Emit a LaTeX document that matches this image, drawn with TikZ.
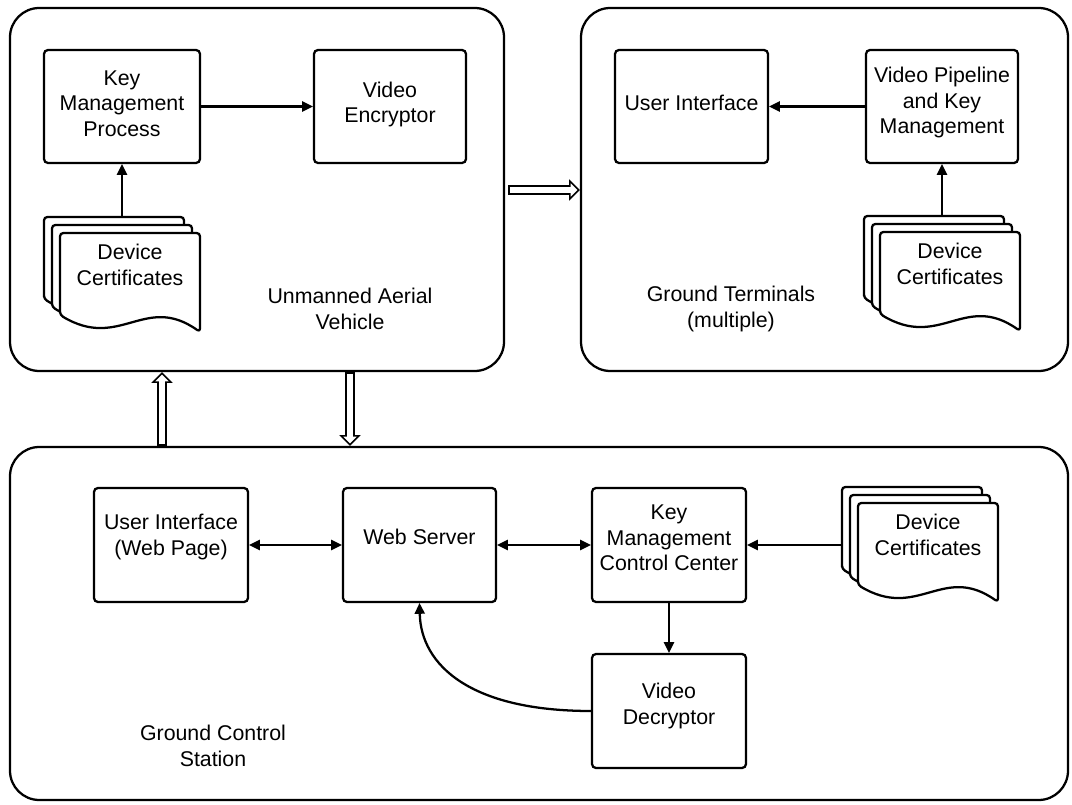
\documentclass[tikz,border=0pt]{standalone}
\usepackage{fontspec}
\setmainfont{Liberation Sans}
\usetikzlibrary{arrows.meta,fit,calc}

% one sheet of a document stack: straight top and sides, wavy bottom
\newcommand{\sheetpath}{(0,82) -- (0,0) -- (140,0) -- (140,99) .. controls (85,60) and (60,118) .. (0,82) -- cycle}
% a stack of three sheets; #1 name, (#2,#3) top-left corner of the back sheet
\newcommand{\docstack}[3]{%
  \foreach \d in {0,8,16}{%
    \begin{scope}[shift={(#2+\d,#3+\d)}]
      \filldraw[sheet] \sheetpath;
    \end{scope}}
  \node[fit={(#2,#3) (#2+156,#3+115)}, inner sep=0pt] (#1) {};
  \node[label] (#1-text) at (#2+86,#3+48) {Device\\Certificates};
}

\begin{document}
\begin{tikzpicture}[x=0.75pt,y=-0.75pt,
  every node/.style={font=\fontsize{16pt}{19pt}\selectfont},
  label/.style={align=center, inner sep=0pt},
  container/.style={draw, line width=1.7pt, rounded corners=22pt, inner sep=0pt},
  procbox/.style={draw, line width=1.7pt, rounded corners=3pt, inner sep=0pt},
  sheet/.style={draw, fill=white, line width=1.7pt, rounded corners=2.5pt, line join=round},
  link/.style={line width=1.7pt, -{Triangle[length=8pt,width=8pt,line width=0pt]}},
  biglink/.style={line width=1.7pt, {Triangle[length=8pt,width=8pt,line width=0pt]}-{Triangle[length=8pt,width=8pt,line width=0pt]}},
  hollowout/.style={line width=7.8pt, -{Triangle[length=8pt,width=16pt,line width=0pt]}},
  hollowin/.style={draw=white, line width=5pt, -{Triangle[length=5pt,width=10pt,line width=0pt]}, shorten >=1.9pt, shorten <=1.3pt}
]
\useasboundingbox (0,0) rectangle (1072,805);

% containers
\node[container, fit={(10,8) (504,371)}] (uav) {};
\node[container, fit={(581,8) (1068,371)}] (gt) {};
\node[container, fit={(10,447) (1068,800)}] (gcs) {};

\node[label] (uavlbl) at (350,309) {Unmanned Aerial\\Vehicle};
\node[label] (gtlbl) at (731,309) {Ground Terminals\\(multiple)};
\node[label] (gcslbl) at (213,746) {Ground Control\\Station};

% unmanned aerial vehicle
\node[procbox, fit={(44,50) (200,163)}] (kmp) {};
\node[label] (kmp-t) at ($(kmp.center)+(0,-3)$) {Key\\Management\\Process};
\node[procbox, fit={(314,50) (466,163)}] (ve) {};
\node[label] (ve-t) at ($(ve.center)+(0,-2)$) {Video\\Encryptor};
\docstack{docsA}{44}{217}

% ground terminals
\node[procbox, fit={(615,50) (768,163)}] (gtui) {};
\node[label] (gtui-t) at ($(gtui.center)+(0,-4)$) {User Interface};
\node[procbox, fit={(866,50) (1018,163)}] (vp) {};
\node[label] (vp-t) at ($(vp.center)+(0,-4)$) {Video Pipeline\\and Key\\Management};
\docstack{docsB}{864}{216}

% ground control station
\node[procbox, fit={(94,488) (248,602)}] (ui) {};
\node[label] (ui-t) at ($(ui.center)+(0,-8)$) {User Interface\\(Web Page)};
\node[procbox, fit={(343,488) (496,602)}] (ws) {};
\node[label] (ws-t) at ($(ws.center)+(0,-8)$) {Web Server};
\node[procbox, fit={(592,488) (746,602)}] (kmcc) {};
\node[label] (kmcc-t) at ($(kmcc.center)+(0,-7)$) {Key\\Management\\Control Center};
\node[procbox, fit={(592,654) (746,768)}] (vd) {};
\node[label] (vd-t) at ($(vd.center)+(0,-5)$) {Video\\Decryptor};
\docstack{docsC}{842}{487}

% connectors
\draw[link] (docsA.north -| kmp.south) -- (kmp.south);
\draw[link] (kmp.east) -- (ve.west);
\draw[link] (vp.west) -- (gtui.east);
\draw[link] (docsB.north -| vp.south) -- (vp.south);
\draw[biglink] (ui.east) -- (ws.west);
\draw[biglink] (ws.east) -- (kmcc.west);
\draw[link] (docsC.west |- kmcc.east) -- (kmcc.east);
\draw[link] (kmcc.south) -- (vd.north);
\draw[link] (vd.west) .. controls (470,711) and (421,665) .. (ws.south);

% data links between the sites
\draw[hollowout] ($(uav.east |- 0,190)+(3,0)$) -- (gt.west |- 0,190);
\draw[hollowin] ($(uav.east |- 0,190)+(3,0)$) -- (gt.west |- 0,190);
\draw[hollowout] (162,0 |- gcs.north) -- (162,0 |- uav.south);
\draw[hollowin] (162,0 |- gcs.north) -- (162,0 |- uav.south);
\draw[hollowout] (350,0 |- uav.south) -- (350,0 |- gcs.north);
\draw[hollowin] (350,0 |- uav.south) -- (350,0 |- gcs.north);
\end{tikzpicture}
\end{document}
